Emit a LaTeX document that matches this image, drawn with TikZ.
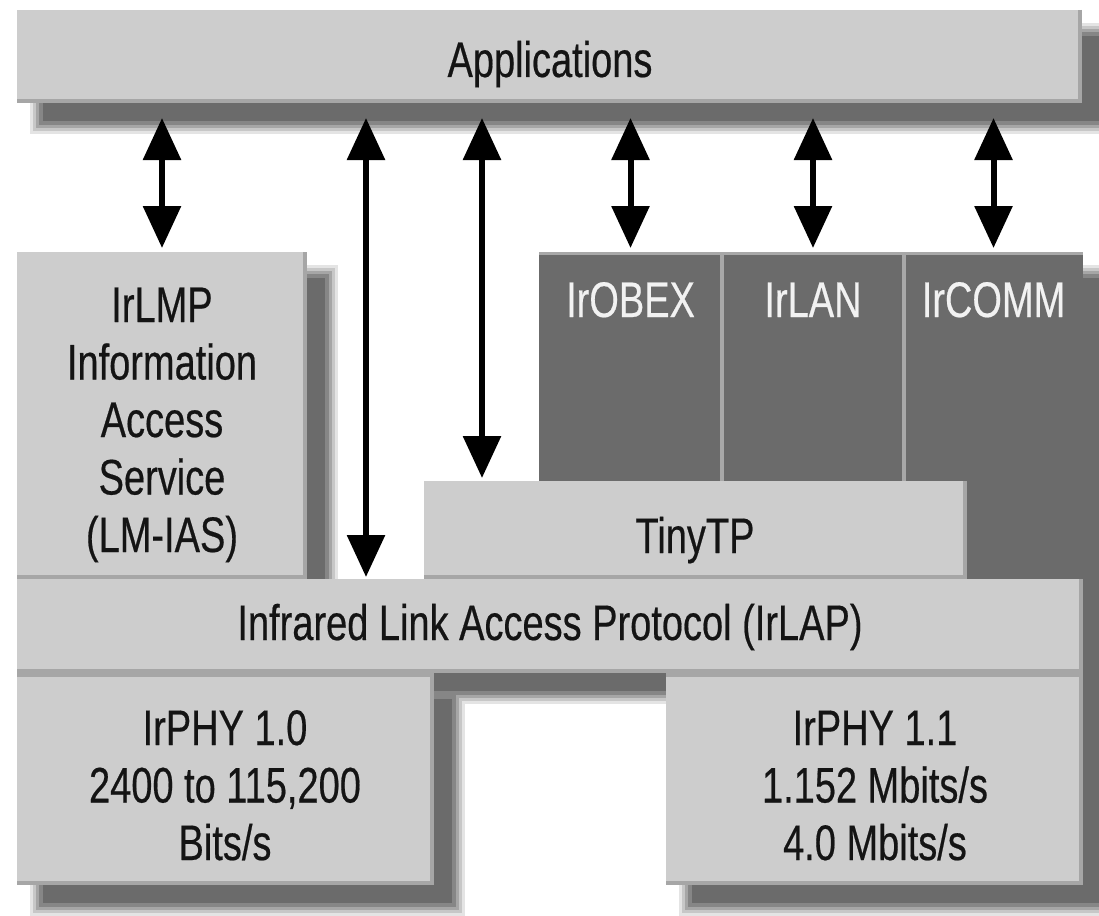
\documentclass[tikz,border=0pt]{standalone}
\usepackage{fontspec}
\setmainfont{Liberation Sans}[FakeStretch=0.76, FakeBold=0.4]
\usetikzlibrary{arrows.meta,calc}
\definecolor{lite}{HTML}{CDCDCD}
\definecolor{shd}{HTML}{6B6B6B}
\definecolor{rim}{HTML}{A6A6A6}
\definecolor{sepc}{HTML}{A8A8A8}
\definecolor{ink}{HTML}{141414}
\definecolor{paper}{HTML}{F2F2F2}
\tikzset{
  box/.style={anchor=north west, inner sep=0pt, outer sep=0pt, fill=lite},
  darkbox/.style={anchor=north west, inner sep=0pt, outer sep=0pt, fill=shd},
  rimline/.style={draw=rim, line width=4pt},
  sepline/.style={draw=sepc, line width=4pt},
  lbl/.style={font=\fontsize{50}{57.5}\selectfont, text=ink, inner sep=0pt, anchor=base, align=center},
  wlbl/.style={lbl, text=paper},
  arr/.style={line width=6pt, {Triangle[length=42pt,width=37pt]}-{Triangle[length=42pt,width=37pt]}},
}
\begin{document}
\begin{tikzpicture}[x=1pt,y=-1pt]
\useasboundingbox (0,0) rectangle (1099,915);
\clip (0,0) rectangle (1099,915);
\fill[white] (0,0) rectangle (1099,915);
% soft drop shadows (drawn layer by layer so darker cores always win)
\foreach \e/\c in {9/18, 6/38, 3/60, 0/82, -4/100} {
  \foreach \xa/\ya/\xb/\yb in {17/10/1082/103, 17/252/307/579, 666/252/1083/885, 17/579/1083/673, 17/673/434/885} {
    \fill[shd!\c!white] (\xa+22-\e, \ya+22-\e) rectangle (\xb+22+\e, \yb+22+\e);
  }
}
% boxes
\node[box, minimum width=1065pt, minimum height=93pt] (apps) at (17,10) {};
\node[box, minimum width=290pt, minimum height=327pt] (lmp) at (17,252) {};
\node[darkbox, minimum width=183pt, minimum height=229pt] (obex) at (539,252) {};
\node[darkbox, minimum width=182pt, minimum height=229pt] (lan) at (722,252) {};
\node[darkbox, minimum width=179pt, minimum height=328pt] (comm) at (904,252) {};
\node[box, minimum width=543pt, minimum height=98pt] (tiny) at (424,481) {};
\node[box, minimum width=1066pt, minimum height=94pt] (lap) at (17,579) {};
\node[box, minimum width=417pt, minimum height=212pt] (phy0) at (17,673) {};
\node[box, minimum width=417pt, minimum height=212pt] (phy1) at (666,673) {};
% rims
\foreach \b in {apps,lmp,tiny,lap,phy0,phy1} {
  \draw[rimline] ([xshift=-2pt]\b.north east) -- ([xshift=-2pt,yshift=2pt]\b.south east) -- ([yshift=2pt]\b.south west);
}
\draw[rimline] ([yshift=-2pt]phy0.north west) -- ([yshift=-2pt]phy0.north east);
\draw[rimline] ([yshift=-2pt]phy1.north west) -- ([yshift=-2pt]phy1.north east);
\draw[sepline] (obex.north east) -- (obex.south east);
\draw[sepline] (lan.north east) -- (lan.south east);
\draw[sepline, line width=3pt] ([yshift=-1.5pt]obex.north west) -- ([yshift=-1.5pt]comm.north east);
% labels (multi-line labels are anchored at the baseline of their last line)
\node[lbl] (tapps) at (550,77) {Applications};
\node[lbl] (tlmp) at (162,552) {IrLMP\\Information\\Access\\Service\\(LM-IAS)};
\node[wlbl] (tobex) at (630.5,317) {IrOBEX};
\node[wlbl] (tlan) at (813,317) {IrLAN};
\node[wlbl] (tcomm) at (993.5,317) {IrCOMM};
\node[lbl] (ttiny) at (695,553) {TinyTP};
\node[lbl] (tlap) at (550,640) {Infrared Link Access Protocol (IrLAP)};
\node[lbl] (tphy0) at (225,860) {IrPHY 1.0\\2400 to 115,200\\Bits/s};
\node[lbl] (tphy1) at (875,860) {IrPHY 1.1\\1.152 Mbits/s\\4.0 Mbits/s};
% arrows
\draw[arr] ([yshift=-15pt]apps.south -| lmp.north) -- ([yshift=4pt]lmp.north);
\draw[arr] ($(apps.south west)+(349,15)$) -- ($(lap.north west)+(349,-2)$);
\draw[arr] ($(apps.south west)+(465,15)$) -- ($(tiny.north west)+(58,-3)$);
\draw[arr] ([yshift=-15pt]apps.south -| obex.north) -- ([yshift=4pt]obex.north);
\draw[arr] ([yshift=-15pt]apps.south -| lan.north) -- ([yshift=4pt]lan.north);
\draw[arr] ([yshift=-15pt]apps.south -| comm.north) -- ([yshift=4pt]comm.north);
\end{tikzpicture}
\end{document}
